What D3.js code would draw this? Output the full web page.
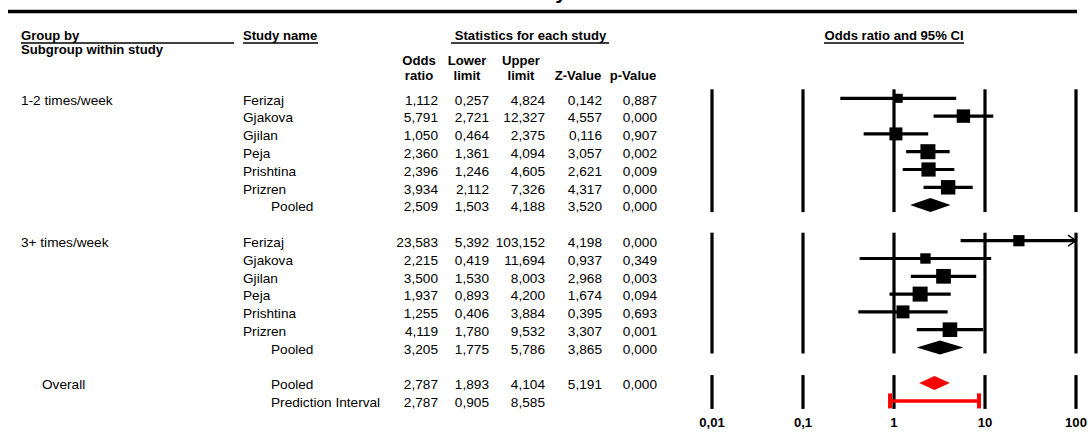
<!DOCTYPE html>
<html><head><meta charset="utf-8">
<script src="https://cdn.jsdelivr.net/npm/d3@7"></script>
<style>html,body{margin:0;padding:0;background:#fff;overflow:hidden}svg{display:block}</style>
</head><body>
<script>
// ---- data ----
const groupLabels = ["1-2 times/week", "3+ times/week"];
const studyNames = ["Ferizaj", "Gjakova", "Gjilan", "Peja", "Prishtina", "Prizren"];
const orG1 = [1.112, 5.791, 1.050, 2.360, 2.396, 3.934];
const loG1 = [0.257, 2.721, 0.464, 1.361, 1.246, 2.112];
const hiG1 = [4.824, 12.327, 2.375, 4.094, 4.605, 7.326];
const zG1  = [0.142, 4.557, 0.116, 3.057, 2.621, 4.317];
const pG1  = [0.887, 0.000, 0.907, 0.002, 0.009, 0.000];
const pooledG1 = [2.509, 1.503, 4.188, 3.520, 0.000];
const orG2 = [23.583, 2.215, 3.500, 1.937, 1.255, 4.119];
const loG2 = [5.392, 0.419, 1.530, 0.893, 0.406, 1.780];
const hiG2 = [103.152, 11.694, 8.003, 4.200, 3.884, 9.532];
const zG2  = [4.198, 0.937, 2.968, 1.674, 0.395, 3.307];
const pG2  = [0.000, 0.349, 0.003, 0.094, 0.693, 0.001];
const pooledG2 = [3.205, 1.775, 5.786, 3.865, 0.000];
const overallPooled = [2.787, 1.893, 4.104, 5.191, 0.000];
const predictionInterval = [2.787, 0.905, 8.585];
const tickValues = [0.01, 0.1, 1, 10, 100];
const tickLabels = ["0,01", "0,1", "1", "10", "100"];

// ---- setup ----
const W = 1088, H = 447, SX = 1.05;
const FONT = "'Liberation Sans', Arial, sans-serif";
const svg = d3.select("body").append("svg").attr("width", W).attr("height", H);
const locale = d3.formatLocale({decimal: ",", thousands: ".", grouping: [3], currency: ["", ""]});
const fmt = locale.format(".3f");
const x = d3.scaleLog().domain([0.01, 100]).range([712, 1076]);
const rowY = i => 98.3 + i * 17.8;

function txt(px, py, s, o = {}) {
  svg.append("text")
    .attr("transform", `translate(${px},${py}) scale(${SX},1)`)
    .attr("text-anchor", o.anchor || "start")
    .attr("font-family", FONT)
    .attr("font-size", o.size || 13)
    .attr("font-weight", o.bold ? "bold" : "normal")
    .attr("fill", "#000")
    .text(s);
}
function underline(x1, x2, y) {
  svg.append("line").attr("x1", x1).attr("x2", x2).attr("y1", y).attr("y2", y)
    .attr("stroke", "#000").attr("stroke-width", 1.3);
}

// cut-off title descender (title lies above the visible area)
txt(567, -1.5, "study", {anchor: "end", size: 20, bold: true});
// thick top rule
svg.append("line").attr("x1", 8).attr("x2", 1077).attr("y1", 11.5).attr("y2", 11.5)
  .attr("stroke", "#000").attr("stroke-width", 3.5);

// headers
txt(21, 39.5, "Group by", {bold: true, size: 12.5});
underline(21, 234, 43);
txt(21, 54, "Subgroup within study", {bold: true, size: 12.5});
txt(243, 39.5, "Study name", {bold: true, size: 12.5});
underline(243, 318, 43);
txt(530.5, 39.5, "Statistics for each study", {bold: true, size: 12.5, anchor: "middle"});
underline(451, 609, 43);
txt(894, 39.5, "Odds ratio and 95% CI", {bold: true, size: 12.5, anchor: "middle"});
underline(824, 964, 43);
const colCenters = [419, 467, 521, 578, 633];
const colRights = [438, 489, 545, 602, 657];
const head1 = ["Odds", "Lower", "Upper", "", ""];
const head2 = ["ratio", "limit", "limit", "Z-Value", "p-Value"];
head1.forEach((h, i) => { if (h) txt(colCenters[i], 65, h, {bold: true, size: 12.5, anchor: "middle"}); });
head2.forEach((h, i) => txt(colCenters[i], 80, h, {bold: true, size: 12.5, anchor: "middle"}));

// build rows
const groups = [
  {label: groupLabels[0], or: orG1, lo: loG1, hi: hiG1, z: zG1, p: pG1, pooled: pooledG1, start: 0},
  {label: groupLabels[1], or: orG2, lo: loG2, hi: hiG2, z: zG2, p: pG2, pooled: pooledG2, start: 8}
];

function numRow(r, vals) {
  vals.forEach((v, j) => txt(colRights[j], rowY(r) + 6.3, fmt(v), {anchor: "end"}));
}
function diamond(r, est, lo, hi, color) {
  const y = rowY(r), h = 7;
  svg.append("path")
    .attr("d", `M${x(lo)},${y} L${x(est)},${y - h} L${x(hi)},${y} L${x(est)},${y + h} Z`)
    .attr("fill", color);
}

// vertical reference lines per block
const blocks = [[0, 6, -9, 7], [8, 14, -8, 6], [16, 17, -8, 8]];
blocks.forEach(([a, b, t, u]) => {
  tickValues.forEach(v => {
    svg.append("line").attr("x1", x(v)).attr("x2", x(v))
      .attr("y1", rowY(a) + t).attr("y2", rowY(b) + u)
      .attr("stroke", "#000").attr("stroke-width", 3.2);
  });
});

groups.forEach(g => {
  txt(21, rowY(g.start) + 6.3, g.label);
  // DerSimonian-Laird random-effects weights for box sizes
  const yi = g.or.map(Math.log);
  const vi = g.lo.map((l, i) => Math.pow((Math.log(g.hi[i]) - Math.log(l)) / (2 * 1.959964), 2));
  const wi = vi.map(v => 1 / v);
  const sw = d3.sum(wi), ybar = d3.sum(wi.map((w, i) => w * yi[i])) / sw;
  const Q = d3.sum(wi.map((w, i) => w * (yi[i] - ybar) ** 2));
  const C = sw - d3.sum(wi.map(w => w * w)) / sw;
  const tau2 = Math.max(0, (Q - (wi.length - 1)) / C);
  const ws = vi.map(v => 1 / (v + tau2));
  const size = d3.scaleSqrt().domain([0, d3.max(ws)]).range([0, 15]);

  studyNames.forEach((name, i) => {
    const r = g.start + i, y = rowY(r);
    txt(243, y + 6.3, name);
    numRow(r, [g.or[i], g.lo[i], g.hi[i], g.z[i], g.p[i]]);
    const clipped = g.hi[i] > 100;
    const xr = clipped ? x(100) - 2 : x(g.hi[i]);
    svg.append("line").attr("x1", x(g.lo[i])).attr("x2", xr).attr("y1", y).attr("y2", y)
      .attr("stroke", "#000").attr("stroke-width", 3.2);
    if (clipped) {
      const ax = x(100);
      svg.append("path").attr("d", `M${ax - 8},${y - 5.5} L${ax},${y} L${ax - 8},${y + 5.5}`)
        .attr("fill", "none").attr("stroke", "#000").attr("stroke-width", 1.4);
      svg.append("line").attr("x1", ax - 6).attr("x2", ax).attr("y1", y).attr("y2", y)
        .attr("stroke", "#000").attr("stroke-width", 1.6);
    }
    const s = size(ws[i]);
    svg.append("rect").attr("x", x(g.or[i]) - s / 2).attr("y", y - s / 2)
      .attr("width", s).attr("height", s).attr("fill", "#000");
  });
  const pr = g.start + 6;
  txt(271, rowY(pr) + 6.3, "Pooled");
  numRow(pr, g.pooled);
  diamond(pr, g.pooled[0], g.pooled[1], g.pooled[2], "#000");
});

// overall
txt(42, rowY(16) + 6.3, "Overall");
txt(271, rowY(16) + 6.3, "Pooled");
numRow(16, overallPooled);
diamond(16, overallPooled[0], overallPooled[1], overallPooled[2], "#ff0000");
txt(271, rowY(17) + 6.3, "Prediction Interval");
numRow(17, predictionInterval);
{
  const y = rowY(17), x1 = x(predictionInterval[1]), x2 = x(predictionInterval[2]);
  svg.append("line").attr("x1", x1).attr("x2", x2).attr("y1", y).attr("y2", y)
    .attr("stroke", "#ff0000").attr("stroke-width", 3.5);
  [x1, x2].forEach(xx => svg.append("rect").attr("x", xx - 2).attr("y", y - 7.5)
    .attr("width", 4).attr("height", 15).attr("fill", "#ff0000"));
}

// tick labels
tickValues.forEach((v, i) => txt(x(v), 427, tickLabels[i], {anchor: "middle", bold: true, size: 12.5}));
</script>
</body></html>
